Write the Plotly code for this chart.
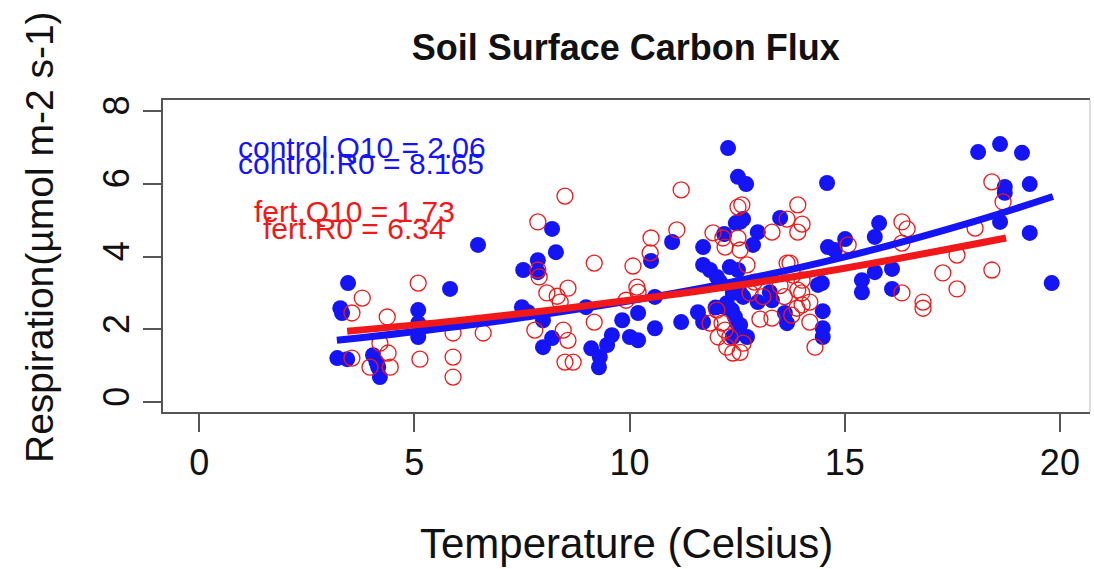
import plotly.graph_objects as go

# ---- data ----
control_temp = [3.21, 3.44, 3.28, 3.32, 3.46, 4.04, 4.16, 4.20, 4.12, 5.09, 5.09, 5.09, 5.83, 6.48,
                7.53, 7.87, 7.87, 8.20, 8.29, 7.50, 7.64, 7.99, 7.99, 8.20, 8.99, 9.11, 9.31, 9.29,
                9.48, 9.59, 9.83, 10.01, 10.20, 10.20, 10.50, 10.59, 10.59, 10.99, 11.20, 11.59,
                11.71, 11.71, 11.71, 11.87, 12.03, 12.20, 12.29, 12.47, 12.52, 12.26, 12.38, 12.50,
                12.40, 12.33, 12.71, 12.57, 12.98, 12.87, 13.50, 14.59, 15.80, 15.70, 15.01, 14.61,
                14.77, 14.47, 14.38, 15.40, 15.40, 15.70, 16.10, 16.10, 14.49, 14.49, 14.49, 13.66,
                13.61, 13.26, 13.31, 12.98, 12.57, 12.64, 12.45, 12.57, 12.73, 12.22, 12.52, 18.10,
                18.61, 19.12, 19.30, 18.72, 18.72, 18.61, 19.30, 19.81, 12.64, 12.10, 12.40, 12.00]
control_resp = [1.21, 1.18, 2.58, 2.45, 3.27, 1.29, 0.96, 0.69, 1.10, 2.53, 2.17, 1.79, 3.11, 4.32,
                3.63, 3.90, 3.57, 4.76, 4.12, 2.61, 2.47, 2.25, 1.51, 1.76, 2.61, 1.48, 1.24, 0.96,
                1.57, 1.84, 2.25, 1.79, 1.70, 2.45, 3.88, 2.89, 2.03, 4.40, 2.20, 2.47,
                2.20, 4.26, 3.77, 3.63, 3.44, 4.62, 6.98, 4.92, 6.19, 2.72, 2.53, 2.17,
                1.79, 3.71, 5.99, 4.95, 4.67, 4.32, 5.06, 6.02, 4.92, 4.54, 4.48, 4.26,
                4.18, 3.27, 3.22, 3.35, 3.02, 3.57, 3.66, 3.11, 2.50, 2.03, 1.79, 2.17,
                2.45, 3.02, 2.80, 2.75, 3.00, 2.89, 2.34, 2.12, 1.79, 2.61, 3.63, 6.87,
                7.09, 6.85, 5.99, 5.91, 5.75, 4.95, 4.65, 3.27, 5.03, 3.30, 3.00, 2.60]

fert_temp = [5.09, 3.79, 3.55, 4.37, 4.20, 4.39, 4.44, 3.97, 3.55, 5.13, 5.90, 5.90, 5.90, 8.50,
             7.87, 9.18, 10.08, 10.50, 10.48, 11.10, 11.20, 8.57, 8.08, 8.32, 7.87, 7.90, 10.17,
             10.20, 6.60, 7.80, 8.46, 8.57, 8.50, 8.69, 9.18, 11.94, 12.17, 12.52, 12.03, 12.15,
             12.06, 12.26, 12.40, 11.87, 12.61, 13.91, 14.01, 13.91, 13.66, 13.31, 12.52, 12.57,
             13.66, 13.73, 12.73, 12.22, 15.08, 16.33, 16.45, 16.33, 17.61, 17.28, 17.61, 18.42,
             18.42, 18.68, 18.03, 16.82, 16.33, 14.19, 14.19, 14.31, 13.91, 14.01, 13.31, 13.03,
             12.64, 12.57, 12.33, 12.22, 13.77, 13.89, 13.80, 14.01, 16.82, 9.92, 8.39, 12.80,
             13.10, 12.90, 13.50, 13.60, 14.00]
fert_resp = [3.27, 2.86, 2.45, 2.34, 1.62, 1.35, 0.96, 0.96, 1.21, 1.18, 1.90, 1.24, 0.69, 5.66,
             4.95, 3.82, 3.74, 4.51, 4.10, 4.73, 5.83, 3.13, 3.00, 2.91, 3.63, 3.44, 3.16,
             3.02, 1.90, 1.98, 1.98, 1.70, 1.10, 1.10, 2.20, 4.65, 4.51, 5.36, 2.53, 2.17,
             1.79, 1.51, 1.35, 2.17, 5.42, 5.42, 4.89, 4.67, 5.03, 4.67, 4.51, 4.18,
             3.82, 3.82, 3.77, 4.26, 4.32, 4.95, 4.76, 4.37, 4.04, 3.55, 3.11, 3.63,
             6.05, 5.50, 4.78, 2.58, 3.00, 2.75, 2.20, 1.51, 3.08, 2.67, 2.31, 2.28,
             1.62, 1.37, 1.79, 1.98, 2.39, 2.58, 3.49, 3.35, 2.75, 2.80, 2.75, 3.00,
             2.90, 3.30, 3.20, 2.90, 3.00]

# fitted Q10 curves
control_fit_temp = [3.2, 6.0, 9.0, 12.0, 15.0, 18.0, 19.84]
control_fit_resp = [1.70, 2.08, 2.59, 3.21, 3.99, 4.96, 5.65]
fert_fit_temp = [3.44, 6.0, 9.0, 12.0, 15.0, 18.75]
fert_fit_resp = [1.95, 2.24, 2.65, 3.12, 3.68, 4.51]

x_ticks = [0, 5, 10, 15, 20]
y_ticks = [0, 2, 4, 6, 8]

fit_labels = ["control.Q10 = 2.06", "control.R0 = 8.165", "fert.Q10 = 1.73", "fert.R0 = 6.34"]
fit_label_x = [3.79, 3.77, 3.62, 3.61]
fit_label_y = [7.00, 6.56, 5.23, 4.78]

BLUE = "#1414f5"
RED = "#f01818"
FONT = "Liberation Sans, Arial, sans-serif"

fig = go.Figure()
fig.add_trace(go.Scatter(x=control_temp, y=control_resp, mode="markers",
                         marker=dict(symbol="circle", size=16, color=BLUE, line=dict(width=0)),
                         name="control", showlegend=False))
fig.add_trace(go.Scatter(x=fert_temp, y=fert_resp, mode="markers",
                         marker=dict(symbol="circle-open", size=16, color=RED, line=dict(width=1.3)),
                         name="fert", showlegend=False))
fig.add_trace(go.Scatter(x=control_fit_temp, y=control_fit_resp, mode="lines",
                         line=dict(color=BLUE, width=7, shape="spline"), showlegend=False))
fig.add_trace(go.Scatter(x=fert_fit_temp, y=fert_fit_resp, mode="lines",
                         line=dict(color=RED, width=7, shape="spline"), showlegend=False))

label_colors = [BLUE, BLUE, RED, RED]
for t, lx, ly, c in zip(fit_labels, fit_label_x, fit_label_y, label_colors):
    fig.add_annotation(x=lx, y=ly, xref="x", yref="y", text=t, showarrow=False,
                       font=dict(family=FONT, size=30, color=c), xanchor="center", yanchor="middle")

# axis titles
fig.add_annotation(x=0.5, y=-0.42, xref="paper", yref="paper", text="Temperature (Celsius)",
                   showarrow=False, font=dict(family=FONT, size=42, color="#111"),
                   xanchor="center", yanchor="middle")
fig.add_annotation(x=-0.133, y=0.56, xref="paper", yref="paper", text="Respiration(µmol m-2 s-1)",
                   showarrow=False, textangle=-90, font=dict(family=FONT, size=39, color="#111"),
                   xanchor="center", yanchor="middle")

# light right edge of the box
fig.add_shape(type="line", xref="paper", yref="paper", x0=1, x1=1, y0=0, y1=1,
              line=dict(color="#d0d0d0", width=1.5))

fig.update_layout(
    width=1094, height=569,
    margin=dict(l=163, r=4, t=100, b=157),
    paper_bgcolor="white", plot_bgcolor="white",
    title=dict(text="<b>Soil Surface Carbon Flux</b>", x=0.572, xanchor="center",
               y=0.917, yanchor="middle", yref="container",
               font=dict(family=FONT, size=36, color="#111")),
    xaxis=dict(range=[-0.84, 20.7], tickvals=x_ticks, ticks="outside", ticklen=18,
               tickwidth=1.5, tickcolor="#555", showgrid=False, zeroline=False,
               showline=True, linecolor="#555", linewidth=2, mirror=True,
               tickfont=dict(family=FONT, size=36, color="#111")),
    yaxis=dict(range=[-0.27, 8.30], tickvals=y_ticks, ticks="outside", ticklen=18,
               tickwidth=1.5, tickcolor="#555", showgrid=False, zeroline=False,
               showline=True, linecolor="#555", linewidth=2, mirror=False, tickangle=-90,
               tickfont=dict(family=FONT, size=36, color="#111")),
)

fig.write_html("out.html")
